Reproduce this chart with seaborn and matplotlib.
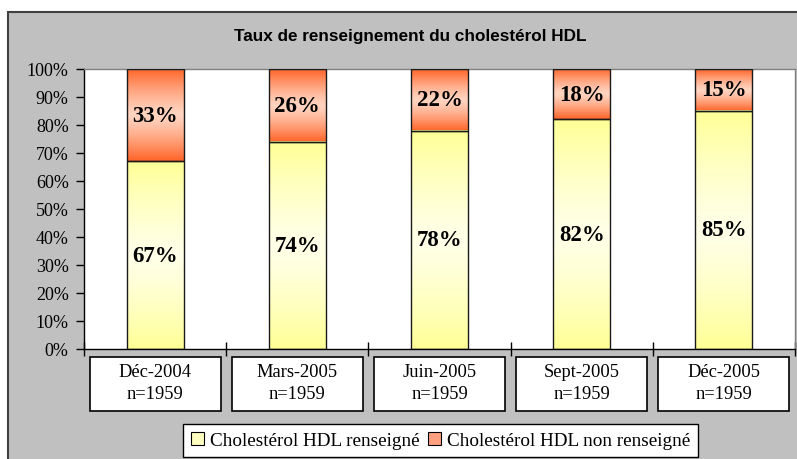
import numpy as np
import pandas as pd
import matplotlib
matplotlib.use("Agg")
import matplotlib.pyplot as plt
import matplotlib.transforms as mtransforms
from matplotlib.patches import Rectangle, Patch
import seaborn as sns

sns.set_style("white")
matplotlib.rcParams['font.family'] = ['Liberation Serif', 'DejaVu Serif']
matplotlib.rcParams['text.color'] = 'black'
matplotlib.rcParams['ytick.color'] = 'black'

# data
periods = ['Déc-2004', 'Mars-2005', 'Juin-2005', 'Sept-2005', 'Déc-2005']
n_values = [1959, 1959, 1959, 1959, 1959]
pct_renseigne = [67, 74, 78, 82, 85]
pct_non_renseigne = [33, 26, 22, 18, 15]
title = 'Taux de renseignement du cholestérol HDL'
legend_labels = ['Cholestérol HDL renseigné', 'Cholestérol HDL non renseigné']

df = pd.DataFrame({'periode': periods,
                   'renseigne': pct_renseigne,
                   'non': pct_non_renseigne})
df['total'] = df['renseigne'] + df['non']

yellow_edge, yellow_mid = np.array([255, 255, 150]) / 255, np.array([255, 255, 232]) / 255
orange_edge, orange_mid = np.array([255, 100, 40]) / 255, np.array([255, 212, 192]) / 255


def gradient(edge, mid, n=128):
    t = np.abs(np.linspace(-1, 1, n)) ** 1.3
    img = mid[None, :] + (edge - mid)[None, :] * t[:, None]
    return img[:, None, :]


fig = plt.figure(figsize=(7.97, 4.60), dpi=100)
fig.patch.set_facecolor('white')
bg = Rectangle((8 / 797, -0.1), 1.1, 0.1 + 1 - 13 / 460,
               transform=fig.transFigure, facecolor='#C0C0C0',
               edgecolor='#404040', linewidth=1.5, zorder=-10)
fig.patches.append(bg)

ax = fig.add_axes([84 / 797, 1 - 350 / 460, (795 - 84) / 797, (350 - 70) / 460])
ax.set_facecolor('white')
ax.set_zorder(1)

sns.barplot(data=df, x='periode', y='total', color='#FF6428', width=0.4,
            ax=ax, errorbar=None)
n_top = len(ax.patches)
sns.barplot(data=df, x='periode', y='renseigne', color='#FFFF96', width=0.4,
            ax=ax, errorbar=None)

# gradient fills on each bar
for k, p in enumerate(list(ax.patches)):
    x0, y0 = p.get_x(), p.get_y()
    w, h = p.get_width(), p.get_height()
    if k < n_top:
        # orange part only above the yellow one
        y0 = df['renseigne'].iloc[k]
        h = df['non'].iloc[k]
        img = gradient(orange_edge, orange_mid)
    else:
        img = gradient(yellow_edge, yellow_mid)
    ax.imshow(img, extent=(x0, x0 + w, y0, y0 + h), aspect='auto',
              origin='lower', zorder=2, interpolation='bilinear')
    ax.add_patch(Rectangle((x0, y0), w, h, facecolor='none',
                           edgecolor='#1a1a1a', linewidth=1.0, zorder=3))
    p.set_visible(False)

ax.set_xlim(-0.5, len(periods) - 0.5)
ax.set_ylim(0, 100)

for i, (r, nr) in enumerate(zip(pct_renseigne, pct_non_renseigne)):
    ax.text(i, r / 2, f'{r}%', ha='center', va='center', fontsize=16.5,
            fontweight='bold', zorder=4)
    ax.text(i, r + nr / 2, f'{nr}%', ha='center', va='center', fontsize=16.5,
            fontweight='bold', zorder=4)

# axes styling
for side in ['top', 'right']:
    ax.spines[side].set_color('#808080')
    ax.spines[side].set_linewidth(1.0)
for side in ['left', 'bottom']:
    ax.spines[side].set_color('black')
    ax.spines[side].set_linewidth(1.0)

ax.set_yticks(range(0, 101, 10))
ax.set_yticklabels([f'{v}%' for v in range(0, 101, 10)], fontsize=13)
ax.tick_params(axis='y', direction='out', length=6, width=1, color='black',
               labelcolor='black', pad=5, left=True)
ax.set_xticks([])
ax.set_xticks(np.arange(-0.5, len(periods), 1.0), minor=True)
ax.tick_params(axis='x', which='minor', direction='inout', length=10, width=1,
               color='black', labelbottom=False, bottom=True)
ax.set_xlabel('')
ax.set_ylabel('')

# category label boxes
trans = mtransforms.blended_transform_factory(ax.transData, ax.transAxes)
for i, (per, n) in enumerate(zip(periods, n_values)):
    ax.add_patch(Rectangle((i - 0.46, -0.221), 0.92, 0.192, transform=trans,
                           facecolor='white', edgecolor='black', linewidth=1.2,
                           clip_on=False))
    ax.text(i, -0.081, per, transform=trans, ha='center', va='center', fontsize=13.3)
    ax.text(i, -0.160, f'n={n}', transform=trans, ha='center', va='center', fontsize=13.3)

fig.text(410 / 797, 1 - 37 / 460, title, ha='center', va='center', fontsize=12.3,
         fontweight='bold', color='black', family=['Liberation Sans', 'DejaVu Sans'])

handles = [Patch(facecolor='#FFFFC0', edgecolor='black', linewidth=0.8),
           Patch(facecolor='#FFA080', edgecolor='black', linewidth=0.8)]
leg = fig.legend(handles, legend_labels, loc='center', bbox_to_anchor=(440.5 / 797, 1 - 441.5 / 460),
                 ncol=2, frameon=True, fancybox=False, edgecolor='black',
                 framealpha=1, prop={'size': 13.8}, handlelength=0.7,
                 handleheight=0.7, handletextpad=0.3, columnspacing=0.4,
                 borderpad=0.4, borderaxespad=0)
leg.get_frame().set_linewidth(1.0)
leg.get_frame().set_facecolor('white')

fig.savefig('out.png', dpi=100)
